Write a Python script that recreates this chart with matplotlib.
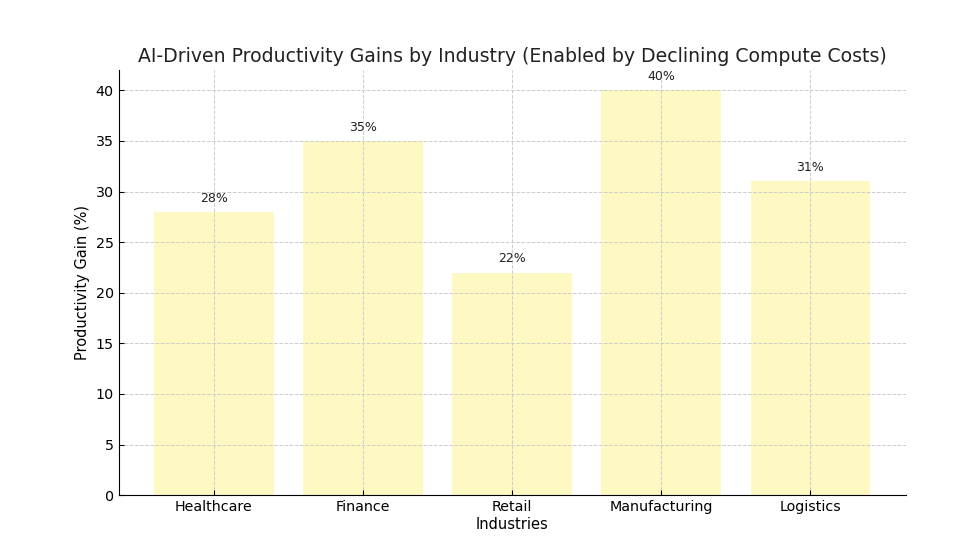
import matplotlib
matplotlib.use('Agg')
from matplotlib import pyplot as plt

industries = ['Healthcare', 'Finance', 'Retail', 'Manufacturing', 'Logistics']
gains = [28, 35, 22, 40, 31]

fig, ax = plt.subplots(figsize=(9.8, 5.52), dpi=100)
fig.subplots_adjust(left=0.121, right=0.924, bottom=0.103, top=0.873)

bars = ax.bar(industries, gains, color='#FEF8C2', width=0.8)
for b, g in zip(bars, gains):
    ax.text(b.get_x() + b.get_width() / 2, g + 0.7, str(g) + '%', ha='center', va='bottom',
            fontsize=9, color='#222222')

ax.set_title('AI-Driven Productivity Gains by Industry (Enabled by Declining Compute Costs)',
             fontsize=13.6, color='#222222')
ax.set_xlabel('Industries', fontsize=10.5, labelpad=2)
ax.set_ylabel('Productivity Gain (%)', fontsize=10.5)
ax.grid(True, linestyle='--', color='#cccccc', linewidth=0.7)
ax.spines['top'].set_visible(False)
ax.spines['right'].set_visible(False)
ax.tick_params(direction='in', labelsize=10.3)

plt.savefig('out.png')
